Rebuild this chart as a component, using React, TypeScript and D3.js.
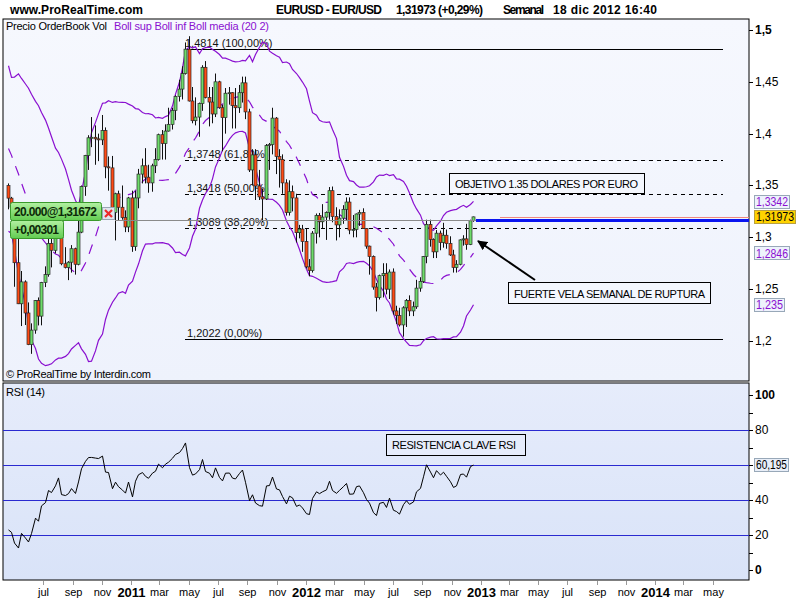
import React from 'react';
import * as d3 from 'd3';

// ---------- DATA (weekly EURUSD) ----------
const firstWeek = new Date(2010, 3, 18); // week of candle 0
const warmupCloses = [1.4860, 1.4910, 1.4880, 1.4960, 1.4850, 1.4620, 1.4340, 1.4375, 1.4320, 1.4410, 1.4380, 1.4140,
  1.3870, 1.3680, 1.3620, 1.3610, 1.3630, 1.3620, 1.3760, 1.3530, 1.3380, 1.3500, 1.3480, 1.3500];

const opens = [
  1.3500, 1.3378, 1.3290, 1.2755, 1.2359, 1.2570, 1.2270, 1.1965, 1.2105, 1.2390, 1.2240, 1.2565, 1.2640, 1.2940, 1.2875, 1.3050,
  1.3275, 1.2745, 1.2710, 1.2760, 1.2890, 1.2740, 1.3050, 1.3490, 1.3790, 1.3960, 1.3965, 1.3950, 1.3940, 1.4030, 1.3680, 1.3670,
  1.3240, 1.3420, 1.3290, 1.3190, 1.3100, 1.3380, 1.2910, 1.3380, 1.3610, 1.3690, 1.3580, 1.3525, 1.3690, 1.3750, 1.3990, 1.3905,
  1.4025, 1.4090, 1.4225, 1.4360, 1.4430, 1.4580, 1.4815, 1.4315, 1.4125, 1.4160, 1.4290, 1.4640, 1.4350, 1.4305, 1.4190, 1.4500,
  1.4250, 1.4155, 1.4390, 1.4395, 1.4270, 1.4250, 1.4395, 1.4490, 1.4210, 1.3650, 1.3795, 1.3495, 1.3390, 1.3370, 1.3885, 1.3895,
  1.4150, 1.3780, 1.3750, 1.3525, 1.3240, 1.3440, 1.3380, 1.3045, 1.3080, 1.2960, 1.2715, 1.2680, 1.3040, 1.3210, 1.3150, 1.3195,
  1.3240, 1.3450, 1.3200, 1.3120, 1.3185, 1.3270, 1.3340, 1.3070, 1.3075, 1.3225, 1.3240, 1.3085, 1.2915, 1.2815, 1.2520, 1.2420,
  1.2630, 1.2650, 1.2500, 1.2665, 1.2290, 1.2245, 1.2155, 1.2320, 1.2390, 1.2290, 1.2330, 1.2510, 1.2575, 1.2815, 1.3125, 1.2980,
  1.2860, 1.3040, 1.2950, 1.3020, 1.2940, 1.2830, 1.2710, 1.2740, 1.2975, 1.2985, 1.2930, 1.3160];
const highs = [
  1.3520, 1.3390, 1.3320, 1.3094, 1.2675, 1.2585, 1.2372, 1.2170, 1.2395, 1.2420, 1.2570, 1.2720, 1.3026, 1.3030, 1.3110, 1.3334,
  1.3290, 1.2905, 1.2770, 1.2925, 1.2900, 1.3160, 1.3500, 1.3795, 1.3985, 1.4160, 1.4080, 1.4000, 1.4180, 1.4060, 1.3780, 1.3785,
  1.3430, 1.3450, 1.3500, 1.3260, 1.3390, 1.3450, 1.3450, 1.3660, 1.3760, 1.3860, 1.3700, 1.3710, 1.3860, 1.4000, 1.4035, 1.4090,
  1.4250, 1.4250, 1.4370, 1.4520, 1.4650, 1.4880, 1.4940, 1.4450, 1.4350, 1.4300, 1.4660, 1.4700, 1.4450, 1.4450, 1.4580, 1.4510,
  1.4280, 1.4440, 1.4450, 1.4400, 1.4440, 1.4470, 1.4550, 1.4550, 1.4240, 1.3850, 1.3850, 1.3650, 1.3470, 1.3900, 1.3910, 1.4250,
  1.4160, 1.3850, 1.3800, 1.3560, 1.3550, 1.3500, 1.3420, 1.3120, 1.3120, 1.3080, 1.2790, 1.3060, 1.3230, 1.3235, 1.3320, 1.3250,
  1.3485, 1.3490, 1.3290, 1.3270, 1.3310, 1.3385, 1.3385, 1.3215, 1.3230, 1.3265, 1.3280, 1.3090, 1.2920, 1.2825, 1.2560, 1.2640,
  1.2750, 1.2750, 1.2690, 1.2700, 1.2340, 1.2320, 1.2335, 1.2405, 1.2440, 1.2380, 1.2590, 1.2615, 1.2820, 1.3170, 1.3170, 1.2990,
  1.3070, 1.3065, 1.3140, 1.3075, 1.3010, 1.2880, 1.2780, 1.2980, 1.3020, 1.3130, 1.3170, 1.3200];
const lows = [
  1.3270, 1.3114, 1.2523, 1.2356, 1.2144, 1.2154, 1.1960, 1.1876, 1.2070, 1.2150, 1.2151, 1.2520, 1.2620, 1.2710, 1.2845, 1.3030,
  1.2730, 1.2700, 1.2587, 1.2660, 1.2640, 1.2730, 1.3040, 1.3400, 1.3650, 1.3870, 1.3700, 1.3735, 1.3890, 1.3570, 1.3450, 1.3220,
  1.2970, 1.3160, 1.3170, 1.3050, 1.3050, 1.2860, 1.2870, 1.3280, 1.3520, 1.3520, 1.3430, 1.3440, 1.3620, 1.3740, 1.3750, 1.3750,
  1.4020, 1.4040, 1.4130, 1.4310, 1.4330, 1.4570, 1.4310, 1.4100, 1.4080, 1.3970, 1.4220, 1.4340, 1.4070, 1.4100, 1.4160, 1.4240,
  1.3830, 1.4000, 1.4280, 1.4050, 1.4050, 1.4200, 1.4300, 1.4140, 1.3630, 1.3500, 1.3360, 1.3360, 1.3145, 1.3360, 1.3650, 1.3800,
  1.3610, 1.3480, 1.3420, 1.3210, 1.3210, 1.3250, 1.2950, 1.2990, 1.2860, 1.2700, 1.2625, 1.2660, 1.2940, 1.3000, 1.3090, 1.2975,
  1.3170, 1.3145, 1.2970, 1.3000, 1.3130, 1.3160, 1.3030, 1.3000, 1.3000, 1.3110, 1.3080, 1.2890, 1.2640, 1.2495, 1.2285, 1.2400,
  1.2420, 1.2450, 1.2405, 1.2255, 1.2165, 1.2140, 1.2042, 1.2135, 1.2240, 1.2240, 1.2310, 1.2475, 1.2560, 1.2750, 1.2910, 1.2800,
  1.2800, 1.2875, 1.2900, 1.2890, 1.2820, 1.2660, 1.2660, 1.2730, 1.2920, 1.2880, 1.2925, 1.3150];
const closes = [
  1.3378, 1.3290, 1.2755, 1.2359, 1.2570, 1.2270, 1.1965, 1.2105, 1.2390, 1.2240, 1.2565, 1.2640, 1.2940, 1.2875, 1.3050, 1.3275,
  1.2745, 1.2710, 1.2760, 1.2890, 1.2740, 1.3050, 1.3490, 1.3790, 1.3960, 1.3965, 1.3950, 1.3940, 1.4030, 1.3680, 1.3670, 1.3240,
  1.3420, 1.3290, 1.3190, 1.3100, 1.3380, 1.2910, 1.3380, 1.3610, 1.3690, 1.3580, 1.3525, 1.3690, 1.3750, 1.3990, 1.3905, 1.4025,
  1.4090, 1.4225, 1.4360, 1.4430, 1.4580, 1.4815, 1.4315, 1.4125, 1.4160, 1.4290, 1.4640, 1.4350, 1.4305, 1.4190, 1.4500, 1.4250,
  1.4155, 1.4390, 1.4395, 1.4270, 1.4250, 1.4395, 1.4490, 1.4210, 1.3650, 1.3795, 1.3495, 1.3390, 1.3370, 1.3885, 1.3895, 1.4150,
  1.3780, 1.3750, 1.3525, 1.3240, 1.3440, 1.3380, 1.3045, 1.3080, 1.2960, 1.2715, 1.2680, 1.3040, 1.3210, 1.3150, 1.3195, 1.3240,
  1.3450, 1.3200, 1.3120, 1.3185, 1.3270, 1.3340, 1.3070, 1.3075, 1.3225, 1.3240, 1.3085, 1.2915, 1.2815, 1.2520, 1.2420, 1.2630,
  1.2650, 1.2500, 1.2665, 1.2290, 1.2245, 1.2155, 1.2320, 1.2390, 1.2290, 1.2330, 1.2510, 1.2575, 1.2815, 1.3125, 1.2980, 1.2860,
  1.3040, 1.2950, 1.3020, 1.2940, 1.2830, 1.2710, 1.2740, 1.2975, 1.2985, 1.2930, 1.3160, 1.31973];

const fibLevels = [1.4814, 1.3748, 1.3418, 1.3089, 1.2022];
const fibLabels = ['1,4814 (100,00%)', '1,3748 (61,80%)', '1,3418 (50,00%)', '1,3089 (38,20%)', '1,2022 (0,00%)'];
const fibDashed = [false, true, true, true, false];

const priceTicks = [1.2, 1.25, 1.3, 1.35, 1.4, 1.45, 1.5];
const rsiTicks = [0, 10, 20, 30, 40, 50, 60, 70, 80, 90, 100];
const rsiLabelTicks = [0, 20, 40, 80, 100];
const rsiGuides = [20, 40, 60, 80];
const monthNames = ['ene', 'feb', 'mar', 'abr', 'may', 'jun', 'jul', 'ago', 'sep', 'oct', 'nov', 'dic'];

const lastPrice = 1.31973;
const positionPrice = 1.31672;
const lastUpper = 1.3342;
const lastMiddle = 1.2846;
const lastLower = 1.235;
const lastRsi = 60.195;

// ---------- SCALES ----------
const FONT = 'Liberation Sans, Arial, sans-serif';
const L = 3, R = 749, T1 = 19, B1 = 381, T2 = 383, B2 = 580;
const xTime = d3.scaleTime().domain([new Date(2010, 3, 8), new Date(2014, 6, 16)]).range([L, R]);
const yP = d3.scaleLinear().domain([1.1614, 1.5106]).range([B1, T1]);
const yR = d3.scaleLinear().domain([-5.7, 106.9]).range([B2, T2]);

const weekDate = (i: number) => new Date(firstWeek.getFullYear(), firstWeek.getMonth(), firstWeek.getDate() + 7 * i);
const fmt = (v: number) => String(v).replace('.', ',');

function computeBands() {
  const all = warmupCloses.concat(closes);
  const off = warmupCloses.length;
  const up: number[] = [], mid: number[] = [], lo: number[] = [];
  for (let i = 0; i < closes.length; i++) {
    const w = all.slice(off + i - 19, off + i + 1);
    const m = d3.mean(w)!;
    const sd = Math.sqrt(d3.mean(w.map(v => (v - m) * (v - m)))!);
    mid.push(m); up.push(m + 2 * sd); lo.push(m - 2 * sd);
  }
  return { up, mid, lo };
}
function computeRsi(n = 14) {
  const all = warmupCloses.concat(closes);
  const off = warmupCloses.length;
  let ag = 0, al = 0;
  for (let i = 1; i <= n; i++) {
    const ch = all[i] - all[i - 1];
    ag += Math.max(ch, 0); al += Math.max(-ch, 0);
  }
  ag /= n; al /= n;
  const out: number[] = [];
  for (let i = n + 1; i < all.length; i++) {
    const ch = all[i] - all[i - 1];
    ag = (ag * (n - 1) + Math.max(ch, 0)) / n;
    al = (al * (n - 1) + Math.max(-ch, 0)) / n;
    if (i >= off) out.push(al === 0 ? 100 : 100 - 100 / (1 + ag / al));
  }
  return out;
}

export default function App() {
  const bands = computeBands();
  const rsi = computeRsi();
  const cx = (i: number) => Math.round(xTime(weekDate(i)));
  const bandLine = d3.line<number>().x((_, i) => cx(i) + 0.5).y(v => yP(v));
  const rsiLine = d3.line<number>().x((_, i) => cx(i) + 0.5).y(v => yR(v));
  const months = d3.timeMonth.every(2)!.range(new Date(2010, 6, 1), new Date(2014, 5, 2));
  const purple = '#8a10d0';
  const lastX = cx(closes.length - 1);

  return (
    <svg width={800} height={600} style={{ position: 'absolute', left: 0, top: 0, fontFamily: FONT }}>
      <defs>
        <linearGradient id="rsibg" x1="0" y1="0" x2="0" y2="1">
          <stop offset="0" stopColor="#e6ecfb" />
          <stop offset="1" stopColor="#d9e3f8" />
        </linearGradient>
        <linearGradient id="topbg" x1="0" y1="0" x2="0" y2="1">
          <stop offset="0" stopColor="#f6f8fe" />
          <stop offset="1" stopColor="#eef2fc" />
        </linearGradient>
        <linearGradient id="posbg" x1="0" y1="0" x2="0" y2="1">
          <stop offset="0" stopColor="#b2f0a2" />
          <stop offset="1" stopColor="#62cc50" />
        </linearGradient>
        <clipPath id="clipTop"><rect x={L} y={T1} width={R - L} height={B1 - T1} /></clipPath>
        <clipPath id="clipRsi"><rect x={L} y={T2} width={R - L} height={B2 - T2} /></clipPath>
        <marker id="arrowHead" viewBox="0 0 10 10" refX="9" refY="5" markerWidth="5" markerHeight="5" orient="auto">
          <path d="M0,0 L10,5 L0,10 z" fill="#000" />
        </marker>
      </defs>
      <rect x={0} y={0} width={800} height={600} fill="#fff" />

      {/* header */}
      <text x={10} y={14} fontSize={12} fontWeight="bold" textLength={133} lengthAdjust="spacing">www.ProRealTime.com</text>
      <text x={276} y={14} fontSize={12} fontWeight="bold" textLength={106} lengthAdjust="spacing">EURUSD - EUR/USD</text>
      <text x={396} y={14} fontSize={12} fontWeight="bold" textLength={87} lengthAdjust="spacing">1,31973 (+0,29%)</text>
      <text x={503} y={14} fontSize={12} fontWeight="bold" textLength={41} lengthAdjust="spacing">Semanal</text>
      <text x={553} y={14} fontSize={12} fontWeight="bold" textLength={104} lengthAdjust="spacing">18 dic 2012 16:40</text>

      {/* price panel */}
      <rect x={L} y={T1} width={R - L} height={B1 - T1} fill="url(#topbg)" stroke="#000" />
      <text x={6} y={29.5} fontSize={11} textLength={101} lengthAdjust="spacing">Precio OrderBook Vol</text>
      <text x={114} y={29.5} fontSize={11} fill={purple} textLength={155} lengthAdjust="spacing">Boll sup Boll inf Boll media (20 2)</text>

      <g clipPath="url(#clipTop)">
        {fibLevels.map((v, i) => (
          <g key={'f' + i}>
            <line x1={185} x2={723} y1={Math.round(yP(v)) + 0.5} y2={Math.round(yP(v)) + 0.5} stroke="#000"
              strokeDasharray={fibDashed[i] ? '4,4' : undefined} />
            <text x={i === 0 ? 185 : 187} y={Math.round(yP(v)) - 2} fontSize={11} fill="#111">{fibLabels[i]}</text>
          </g>
        ))}
        <path d={bandLine(bands.up)!} fill="none" stroke={purple} strokeWidth={1.2} />
        <path d={bandLine(bands.lo)!} fill="none" stroke={purple} strokeWidth={1.2} />
        <path d={bandLine(bands.mid)!} fill="none" stroke={purple} strokeWidth={1.2} strokeDasharray="10,9" />
        {closes.map((c, i) => {
          const x = cx(i);
          const o = opens[i];
          const top = yP(Math.max(o, c)), bot = yP(Math.min(o, c));
          return (
            <g key={'c' + i}>
              <line x1={x + 0.5} x2={x + 0.5} y1={yP(highs[i])} y2={yP(lows[i])} stroke="#111" />
              <rect x={x - 1} y={top} width={3} height={Math.max(1, bot - top)}
                fill={c >= o ? '#6edc6a' : '#ff4a14'} stroke="#2a2a2a" strokeWidth={0.7} />
            </g>
          );
        })}
        {/* position & price lines */}
        <line x1={115} x2={R} y1={Math.round(yP(positionPrice)) + 0.5} y2={Math.round(yP(positionPrice)) + 0.5} stroke="#8a8a8a" />
        <line x1={lastX + 3} x2={R} y1={Math.round(yP(positionPrice)) + 0.5} y2={Math.round(yP(positionPrice)) + 0.5} stroke="#0a14f0" strokeWidth={3} />
        <line x1={500} x2={R} y1={Math.round(yP(lastPrice)) + 0.5} y2={Math.round(yP(lastPrice)) + 0.5} stroke="#f08a80" />
      </g>

      {/* annotations */}
      <rect x={449.5} y={173.5} width={195} height={20} fill="#f4f7fe" stroke="#000" />
      <text x={455} y={188} fontSize={11} textLength={183} lengthAdjust="spacing">OBJETIVO 1.35 DOLARES POR EURO</text>
      <rect x={508.5} y={282.5} width={202} height={21} fill="#f4f7fe" stroke="#000" />
      <text x={514} y={297.5} fontSize={11} textLength={191} lengthAdjust="spacing">FUERTE VELA SEMANAL DE RUPTURA</text>
      <line x1={535} y1={280} x2={478} y2={241} stroke="#000" strokeWidth={2} markerEnd="url(#arrowHead)" />

      {/* open position tag */}
      <rect x={10.5} y={202.5} width={91} height={18} rx={2} fill="url(#posbg)" stroke="#3a9a2c" />
      <text x={14} y={216} fontSize={12} fontWeight="bold" fill="#0c2a08" textLength={83} lengthAdjust="spacing">20.000@1,31672</text>
      <rect x={10.5} y={220.5} width={53} height={18} rx={2} fill="url(#posbg)" stroke="#3a9a2c" />
      <text x={14} y={234} fontSize={12} fontWeight="bold" fill="#0c2a08" textLength={45} lengthAdjust="spacing">+0,00301</text>
      <rect x={102.5} y={207.5} width={12} height={12} fill="#dfe5ee" stroke="#9aa6b4" />
      <path d="M105,210 L112,217 M112,210 L105,217" stroke="#ee2a2a" strokeWidth={2.2} />

      <text x={6} y={378} fontSize={11} textLength={145} lengthAdjust="spacing">© ProRealTime by Interdin.com</text>

      {/* price axis */}
      {priceTicks.map(v => (
        <g key={'pt' + v}>
          <line x1={R} x2={R + 4} y1={Math.round(yP(v)) + 0.5} y2={Math.round(yP(v)) + 0.5} stroke="#000" />
          <text x={R + 6} y={yP(v) + 4} fontSize={12} fontWeight={v === 1.5 ? 'bold' : 'normal'}>{fmt(v)}</text>
        </g>
      ))}
      {[lastUpper, lastMiddle, lastLower].map((v, i) => (
        <g key={'bx' + i}>
          <rect x={754.5} y={Math.round(yP(v)) - 6.5} width={i === 2 ? 30 : 35} height={13} fill="#eef2fc" stroke="#98a8b8" />
          <text x={756} y={yP(v) + 4.5} fontSize={12} fill={purple}
            textLength={i === 2 ? 27 : 32} lengthAdjust="spacingAndGlyphs">{fmt(v)}</text>
        </g>
      ))}
      <rect x={754.5} y={Math.round(yP(lastPrice)) - 6.5} width={41} height={13} fill="#ffd200" stroke="#b8a040" />
      <text x={756} y={yP(lastPrice) + 4.5} fontSize={12} fill="#000" textLength={38} lengthAdjust="spacingAndGlyphs">{fmt(lastPrice)}</text>

      {/* RSI panel */}
      <rect x={L} y={T2} width={R - L} height={B2 - T2} fill="url(#rsibg)" stroke="#000" />
      <text x={6} y={396} fontSize={11} textLength={39} lengthAdjust="spacing">RSI (14)</text>
      <g clipPath="url(#clipRsi)">
        {rsiGuides.map(v => (
          <line key={'g' + v} x1={L} x2={R} y1={Math.round(yR(v)) + 0.5} y2={Math.round(yR(v)) + 0.5} stroke="#2a2ad0" strokeWidth={1.2} />
        ))}
        <path d={rsiLine(rsi)!} fill="none" stroke="#000" strokeWidth={1} />
      </g>
      <rect x={386.5} y={434.5} width={139} height={21} fill="#e6ecfb" stroke="#000" />
      <text x={392} y={449} fontSize={11} textLength={124} lengthAdjust="spacing">RESISTENCIA CLAVE RSI</text>
      {rsiTicks.map(v => (
        <line key={'rt' + v} x1={R} x2={R + 4} y1={Math.round(yR(v)) + 0.5} y2={Math.round(yR(v)) + 0.5} stroke="#000" />
      ))}
      {rsiLabelTicks.map(v => (
        <text key={'rl' + v} x={R + 6} y={yR(v) + 4} fontSize={12} fontWeight={v === 0 || v === 100 ? 'bold' : 'normal'}>{v}</text>
      ))}
      <rect x={754.5} y={Math.round(yR(lastRsi)) - 6.5} width={34} height={13} fill="#e8eef8" stroke="#98a8b8" />
      <text x={756} y={yR(lastRsi) + 4.5} fontSize={12} textLength={31} lengthAdjust="spacingAndGlyphs">{fmt(lastRsi)}</text>

      {/* time axis */}
      {months.map((m, i) => {
        const x = Math.round(xTime(m)) + 0.5;
        const isYear = m.getMonth() === 0;
        return (
          <g key={'m' + i}>
            <line x1={x} x2={x} y1={B2 + 1} y2={B2 + 5} stroke="#999" />
            <text x={x} y={isYear ? 597 : 596} textAnchor="middle" fontSize={isYear ? 13 : 11}
              fontWeight={isYear ? 'bold' : 'normal'}>{isYear ? String(m.getFullYear()) : monthNames[m.getMonth()]}</text>
          </g>
        );
      })}
    </svg>
  );
}
